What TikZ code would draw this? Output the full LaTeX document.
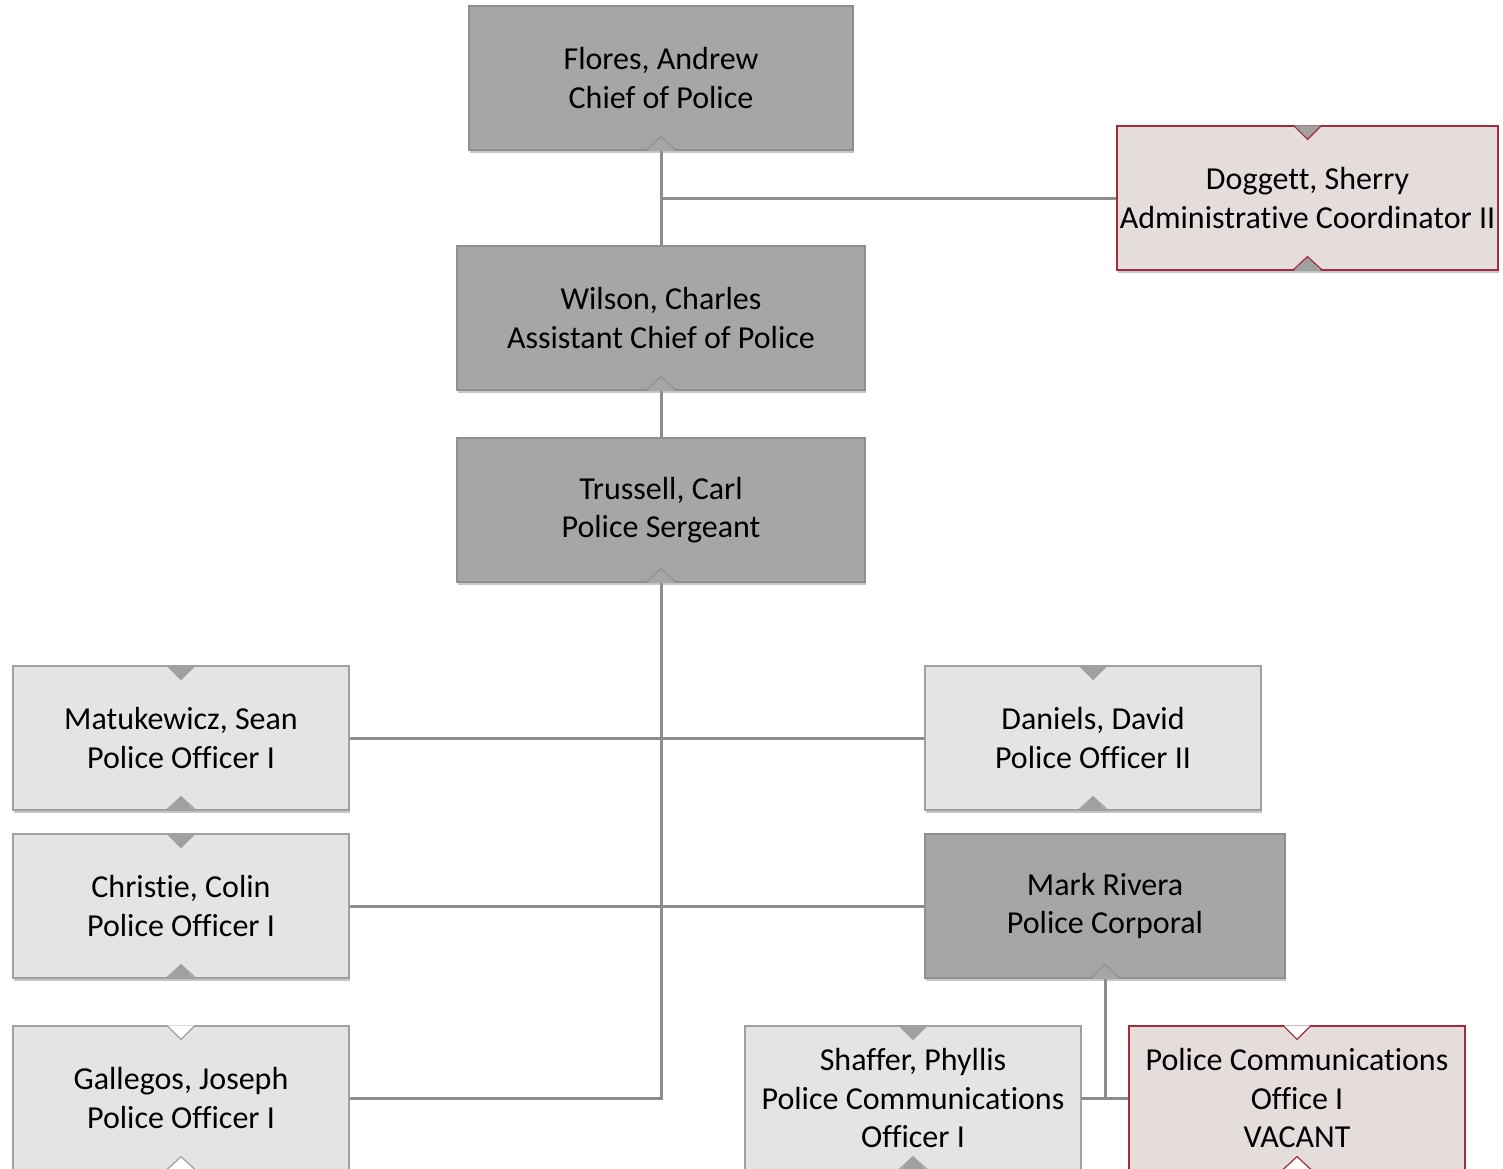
\documentclass[tikz,border=0pt]{standalone}
\usepackage{fontspec}
\setmainfont{Carlito}[Ligatures=NoCommon]
\usetikzlibrary{shadows}
\definecolor{darkfill}{HTML}{A6A6A6}
\definecolor{darkline}{HTML}{8F8F8F}
\definecolor{lightfill}{HTML}{E4E4E4}
\definecolor{lightline}{HTML}{A0A0A0}
\definecolor{pinkfill}{HTML}{E5DCDC}
\definecolor{redline}{HTML}{A02C3C}
\definecolor{connc}{HTML}{8C8C8C}
\definecolor{notchc}{HTML}{A0A0A0}
\tikzset{
  box/.style={rectangle, align=center, minimum height=72pt, inner sep=0pt,
    font=\fontsize{16pt}{19.3pt}\selectfont, line width=0.6pt,
    drop shadow={shadow xshift=0.6pt, shadow yshift=-1.6pt, opacity=0.22, fill=black}},
  darkbox/.style={box, fill=darkfill, draw=darkline},
  lightbox/.style={box, fill=lightfill, draw=lightline},
  pinkbox/.style={box, fill=pinkfill, draw=redline},
  conn/.style={draw=connc, line width=1.5pt},
}
\newcommand\topnotch[3]{% node, fill, line
  \filldraw[fill=#2, draw=#3, line width=0.6pt] ([xshift=-7pt]#1.north) -- ([yshift=-7pt]#1.north) -- ([xshift=7pt]#1.north);
}
\newcommand\botnotch[3]{% node, fill, line
  \fill[#2] ([xshift=-7pt,yshift=-0.3pt]#1.south) -- ([yshift=7pt]#1.south) -- ([xshift=7pt,yshift=-0.3pt]#1.south) -- cycle;
  \draw[#3, line width=0.6pt] ([xshift=-7.6pt]#1.south) -- ([yshift=7pt]#1.south) -- ([xshift=7.6pt]#1.south);
}
\begin{document}
\begin{tikzpicture}[x=0.5pt,y=-0.5pt]
\useasboundingbox (0,0) rectangle (1503,1168);
\clip (0,0) rectangle (1503,1168);
\fill[white] (0,0) rectangle (1503,1168);

\node[darkbox, minimum width=192pt] (flores) at (661,78) {Flores, Andrew\\Chief of Police};
\node[pinkbox, minimum width=190.5pt] (doggett) at (1307.5,198) {Doggett, Sherry\\Administrative Coordinator II};
\node[darkbox, minimum width=204pt] (wilson) at (661,318) {Wilson, Charles\\Assistant Chief of Police};
\node[darkbox, minimum width=204pt] (trussell) at (661,510) {Trussell, Carl\\Police Sergeant};
\node[lightbox, minimum width=168pt] (matu) at (181,738) {Matukewicz, Sean\\Police Officer I};
\node[lightbox, minimum width=168pt] (daniels) at (1093,738) {Daniels, David\\Police Officer II};
\node[lightbox, minimum width=168pt] (christie) at (181,906) {Christie, Colin\\Police Officer I};
\node[darkbox, minimum width=180pt] (rivera) at (1105,906) {Mark Rivera\\Police Corporal};
\node[lightbox, minimum width=168pt] (gallegos) at (181,1098) {Gallegos, Joseph\\Police Officer I};
\node[lightbox, minimum width=168pt] (shaffer) at (913,1098) {Shaffer, Phyllis\\Police Communications\\Officer I};
\node[pinkbox, minimum width=168pt] (vacant) at (1297,1098) {Police Communications\\Office I\\VACANT};

\draw[conn] (flores.south) -- (wilson.north);
\coordinate (fj) at (flores.south |- doggett.west);
\draw[conn] (fj) -- (doggett.west);
\draw[conn] (wilson.south) -- (trussell.north);
\draw[conn] (trussell.south) |- (gallegos.east);
\draw[conn] (matu.east) -- (daniels.west);
\draw[conn] (christie.east) -- (rivera.west);
\coordinate (rj) at (rivera.south |- shaffer.east);
\draw[conn] (rivera.south) -- (rj);
\draw[conn] (shaffer.east) -- (vacant.west);

\botnotch{flores}{darkfill}{darkline}
\botnotch{wilson}{darkfill}{darkline}
\botnotch{trussell}{darkfill}{darkline}
\botnotch{rivera}{darkfill}{darkline}
\topnotch{doggett}{notchc}{redline}
\botnotch{doggett}{notchc}{redline}
\topnotch{matu}{notchc}{lightline}
\botnotch{matu}{notchc}{lightline}
\topnotch{daniels}{notchc}{lightline}
\botnotch{daniels}{notchc}{lightline}
\topnotch{christie}{notchc}{lightline}
\botnotch{christie}{notchc}{lightline}
\topnotch{gallegos}{white}{lightline}
\botnotch{gallegos}{white}{lightline}
\topnotch{shaffer}{notchc}{lightline}
\botnotch{shaffer}{notchc}{lightline}
\topnotch{vacant}{white}{redline}
\botnotch{vacant}{white}{redline}
\end{tikzpicture}
\end{document}
